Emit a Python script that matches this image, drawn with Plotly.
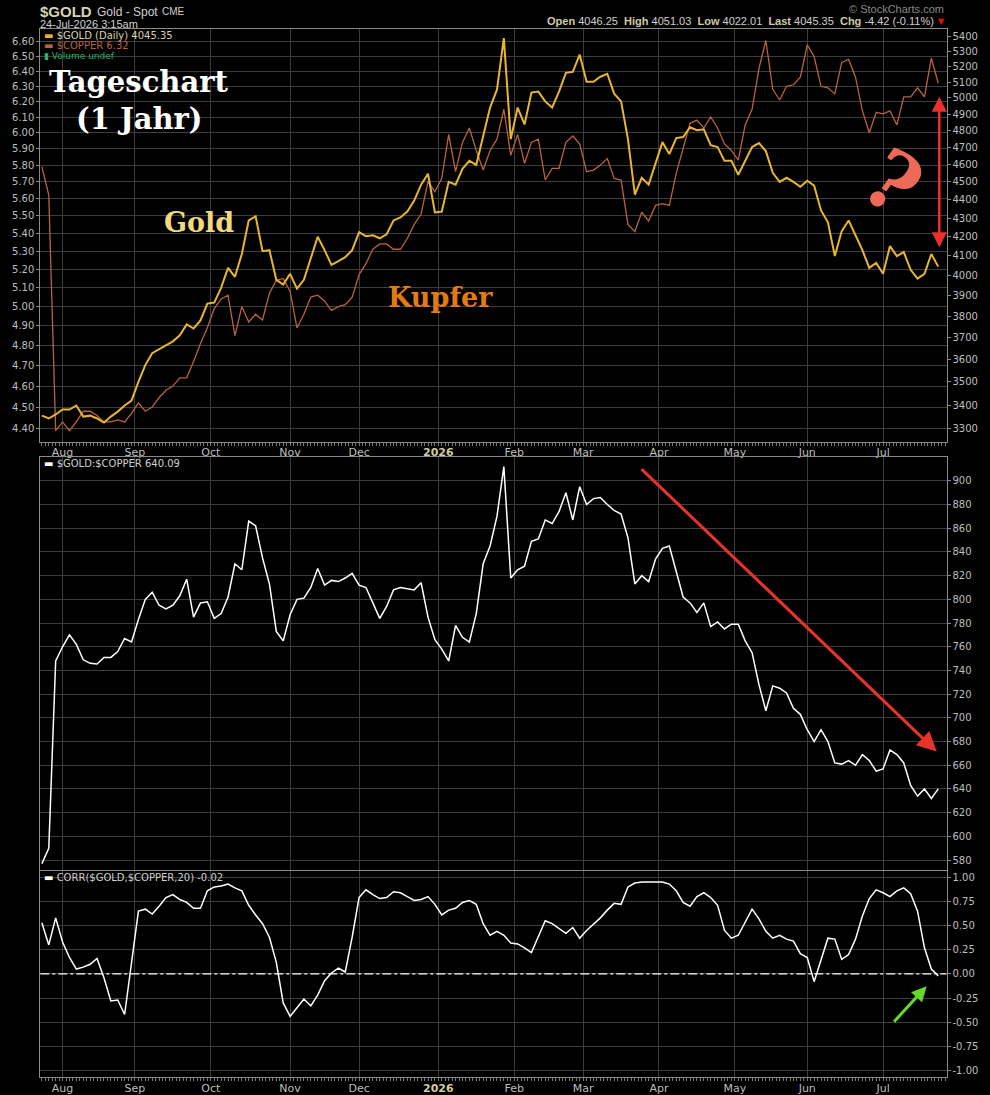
import math
import pandas as pd
import plotly.graph_objects as go

# every second trading day, 24 Jul 2025 .. 23 Jul 2026
dates = pd.bdate_range("2025-07-24", "2026-07-23")[::2]

gold = [
    3355, 3343, 3360, 3381, 3381, 3398, 3351, 3355, 3343, 3326,
    3351, 3372, 3398, 3419, 3500, 3575, 3629, 3647, 3665, 3683,
    3711, 3762, 3743, 3781, 3862, 3867, 3940, 4039, 3994, 4110,
    4287, 4309, 4125, 4130, 3979, 3955, 4009, 3935, 3979, 4089,
    4200, 4130, 4054, 4074, 4094, 4130, 4224, 4203, 4208, 4192,
    4213, 4287, 4303, 4335, 4395, 4484, 4546, 4330, 4335, 4500,
    4484, 4574, 4620, 4597, 4760, 4940, 5052, 5390, 4748, 4940,
    4836, 5034, 5040, 4978, 4940, 5040, 5160, 5167, 5279, 5103,
    5103, 5135, 5154, 5027, 4978, 4748, 4428, 4523, 4484, 4603,
    4730, 4660, 4754, 4760, 4819, 4801, 4807, 4712, 4701, 4620,
    4620, 4540, 4620, 4701, 4724, 4677, 4551, 4500, 4523, 4500,
    4472, 4506, 4478, 4341, 4277, 4100, 4230, 4287, 4208, 4130,
    4039, 4064, 4009, 4151, 4099, 4120, 4029, 3985, 4009, 4110,
    4045.35,
]

copper = [
    5.79, 5.62, 4.39, 4.43, 4.39, 4.43, 4.48, 4.48, 4.46, 4.43,
    4.43, 4.44, 4.43, 4.47, 4.52, 4.48, 4.50, 4.545, 4.58, 4.60,
    4.64, 4.64, 4.72, 4.81, 4.89, 4.99, 5.04, 5.06, 4.85, 5.00,
    4.92, 4.96, 4.93, 5.07, 5.14, 5.15, 5.08, 4.89, 4.96, 5.05,
    5.06, 5.03, 4.98, 5.00, 5.01, 5.05, 5.17, 5.23, 5.31, 5.34,
    5.34, 5.31, 5.31, 5.37, 5.45, 5.51, 5.70, 5.64, 5.72, 5.99,
    5.76, 5.94, 6.03, 5.89, 5.77, 5.89, 5.96, 6.15, 5.86, 5.99,
    5.81, 5.94, 5.96, 5.71, 5.78, 5.78, 5.94, 5.98, 5.93, 5.76,
    5.77, 5.80, 5.84, 5.72, 5.71, 5.45, 5.41, 5.52, 5.47, 5.56,
    5.57, 5.56, 5.75, 5.91, 6.06, 6.08, 6.03, 6.10, 6.03, 5.93,
    5.89, 5.83, 6.05, 6.15, 6.42, 6.61, 6.28, 6.21, 6.30, 6.31,
    6.36, 6.58, 6.50, 6.30, 6.29, 6.25, 6.46, 6.48, 6.36, 6.14,
    6.00, 6.13, 6.12, 6.14, 6.05, 6.23, 6.23, 6.29, 6.23, 6.49,
    6.32,
]

ratio = [
    577, 590, 748, 760, 770, 762, 749, 746, 745.5, 751,
    751, 756, 767, 764, 783, 800, 806, 795, 792, 795,
    803, 817, 785, 797, 798, 784, 788, 802, 830, 825,
    866, 862, 835, 813, 773, 765, 787, 800, 801, 810,
    826, 812, 816, 815, 818, 822, 812, 810, 797, 784,
    794, 808, 810, 809, 808, 814, 785, 766, 758, 748,
    778, 768, 764, 788, 830, 845, 870, 912, 818, 825,
    828, 849, 851, 867, 864, 874, 890, 867, 895, 880,
    885, 886, 880, 875, 872, 852, 813, 820, 815, 834,
    843, 845, 824, 802, 797, 789, 797, 777, 781, 775,
    779, 779, 765, 755, 728, 706, 727, 725, 721, 708,
    703, 690, 680, 690, 680, 662, 661, 664, 660, 669,
    664, 655, 657, 673, 669, 662, 643, 634, 640, 632,
    640.09,
]

corr = [
    0.53, 0.30, 0.58, 0.33, 0.17, 0.05, 0.07, 0.10, 0.16, -0.04,
    -0.28, -0.27, -0.42, 0.10, 0.65, 0.67, 0.62, 0.70, 0.79, 0.82,
    0.77, 0.74, 0.68, 0.68, 0.86, 0.90, 0.91, 0.93, 0.89, 0.86,
    0.71, 0.61, 0.52, 0.38, 0.12, -0.30, -0.44, -0.35, -0.26, -0.33,
    -0.22, -0.07, 0.01, 0.06, 0.02, 0.38, 0.79, 0.87, 0.82, 0.78,
    0.79, 0.85, 0.84, 0.80, 0.76, 0.77, 0.80, 0.72, 0.61, 0.66,
    0.68, 0.74, 0.76, 0.72, 0.52, 0.40, 0.44, 0.40, 0.32, 0.31,
    0.27, 0.22, 0.38, 0.55, 0.52, 0.47, 0.42, 0.48, 0.37, 0.45,
    0.51, 0.58, 0.66, 0.73, 0.72, 0.90, 0.94, 0.95, 0.95, 0.95,
    0.95, 0.93, 0.86, 0.74, 0.70, 0.80, 0.84, 0.79, 0.71, 0.45,
    0.37, 0.40, 0.53, 0.67, 0.57, 0.44, 0.37, 0.40, 0.36, 0.34,
    0.21, 0.17, -0.08, 0.15, 0.37, 0.36, 0.15, 0.20, 0.36, 0.60,
    0.78, 0.87, 0.84, 0.80, 0.86, 0.89, 0.83, 0.65, 0.27, 0.05,
    -0.02,
]

month_ticks = ["2025-08-01", "2025-09-01", "2025-10-01", "2025-11-03", "2025-12-01", "2026-01-01",
               "2026-02-02", "2026-03-02", "2026-04-01", "2026-05-01", "2026-06-01", "2026-07-01"]
month_labels = ["Aug", "Sep", "Oct", "Nov", "Dec", "2026", "Feb", "Mar", "Apr", "May", "Jun", "Jul"]

copper_ticks = [4.40, 4.50, 4.60, 4.70, 4.80, 4.90, 5.00, 5.10, 5.20, 5.30, 5.40, 5.50,
                5.60, 5.70, 5.80, 5.90, 6.00, 6.10, 6.20, 6.30, 6.40, 6.50, 6.60]
gold_ticks = [3300, 3400, 3500, 3600, 3700, 3800, 3900, 4000, 4100, 4200, 4300,
              4400, 4500, 4600, 4700, 4800, 4900, 5000, 5100, 5200, 5300, 5400]
ratio_ticks = [580, 600, 620, 640, 660, 680, 700, 720, 740, 760, 780, 800, 820, 840, 860, 880, 900]
corr_ticks = [-1.00, -0.75, -0.50, -0.25, 0.00, 0.25, 0.50, 0.75, 1.00]

W, H = 990, 1095
def px(x): return x / W
def py(y): return 1 - y / H

BG = "#000000"
GRID = "#3d3d3d"
FRAME = "#8a8a8a"
LBL = "#bdbdbd"
GOLD_C = "#e8b530"
COPPER_C = "#b8633c"

fig = go.Figure()
fig.add_trace(go.Scatter(x=dates, y=copper, mode="lines", line=dict(color=COPPER_C, width=1.3),
                         xaxis="x", yaxis="y"))
fig.add_trace(go.Scatter(x=dates, y=gold, mode="lines", line=dict(color=GOLD_C, width=2),
                         xaxis="x", yaxis="y2"))
fig.add_trace(go.Scatter(x=dates, y=ratio, mode="lines", line=dict(color="#ffffff", width=1.5),
                         xaxis="x2", yaxis="y3"))
fig.add_trace(go.Scatter(x=dates, y=corr, mode="lines", line=dict(color="#ffffff", width=1.5),
                         xaxis="x3", yaxis="y4"))

ticktext = [f"<b><span style='color:#d2cca0'>{m}</span></b>" if m.isdigit() else m for m in month_labels]
xdom = [px(40.3), px(946.5)]
xcommon = dict(type="date", domain=xdom, range=["2025-07-23 13:00", "2026-07-27 09:30"],
               rangebreaks=[dict(bounds=["sat", "mon"])],
               tickmode="array", tickvals=month_ticks, ticktext=ticktext,
               showgrid=True, gridcolor=GRID, gridwidth=1, zeroline=False,
               showline=True, mirror=True, linecolor=FRAME, linewidth=1, ticks="",
               tickfont=dict(family="DejaVu Sans", size=11, color=LBL))
minor = dict(tickmode="linear", tick0="2025-07-24", dtick=86400000, ticks="outside",
             ticklen=3, tickcolor="#777777", showgrid=False)

ycommon = dict(showline=True, mirror=True, linecolor=FRAME, linewidth=1, zeroline=False,
               ticks="outside", ticklen=3, tickcolor=FRAME,
               tickfont=dict(family="DejaVu Sans", size=10, color=LBL), tickmode="array")

fig.update_layout(
    width=W, height=H, margin=dict(l=0, r=0, t=0, b=0),
    paper_bgcolor=BG, plot_bgcolor=BG, showlegend=False,
    xaxis=dict(xcommon, anchor="y", minor=minor),
    xaxis2=dict(xcommon, anchor="y3", matches="x", showticklabels=False),
    xaxis3=dict(xcommon, anchor="y4", matches="x", minor=minor),
    yaxis=dict(ycommon, domain=[py(443), py(29.5)], type="log", side="left",
               range=[math.log10(4.337), math.log10(6.687)],
               tickvals=copper_ticks, ticktext=[f"{v:.2f}" for v in copper_ticks],
               showgrid=True, gridcolor=GRID),
    yaxis2=dict(ycommon, overlaying="y", anchor="x", type="log", side="right",
                range=[math.log10(3245), math.log10(5449)],
                tickvals=gold_ticks, ticktext=[str(v) for v in gold_ticks], showgrid=False),
    yaxis3=dict(ycommon, domain=[py(872), py(457.5)], anchor="x2", side="right",
                range=[571.3, 920.4], tickvals=ratio_ticks, showgrid=True, gridcolor=GRID),
    yaxis4=dict(ycommon, domain=[py(1079.3), py(872.3)], anchor="x3", side="right",
                range=[-1.07, 1.068], tickvals=corr_ticks,
                ticktext=[f"{v:.2f}" for v in corr_ticks], showgrid=True, gridcolor=GRID),
)

# zero line of the correlation panel
fig.add_shape(type="line", xref="x3 domain", x0=0, x1=1, yref="y4", y0=0, y1=0,
              line=dict(color="#ffffff", width=1.2, dash="dashdot"))

def note(text, x, y, size=11, color=LBL, family="DejaVu Sans", xanchor="left", **kw):
    fig.add_annotation(text=text, x=px(x), y=py(y), xref="paper", yref="paper",
                       xanchor=xanchor, yanchor="middle", showarrow=False,
                       font=dict(family=family, size=size, color=color), **kw)

# header
note("<b>$GOLD</b>", 38, 12, size=15, color="#d6d2b4", family="Liberation Sans")
note("Gold - Spot", 95, 12, size=12, color="#d0d0d0", family="Liberation Sans")
note("CME", 160, 12, size=10, color="#d0d0d0", family="Liberation Sans")
note("24-Jul-2026 3:15am", 38, 24, size=11, color="#cfcfcf", family="Liberation Sans")
note("© StockCharts.com", 946, 9, size=11, color="#8a8a8a", family="Liberation Sans", xanchor="right")
hdr = ("<b><span style='color:#cfcaa6'>Open</span></b> 4046.25  "
       "<b><span style='color:#cfcaa6'>High</span></b> 4051.03  "
       "<b><span style='color:#cfcaa6'>Low</span></b> 4022.01  "
       "<b><span style='color:#cfcaa6'>Last</span></b> 4045.35  "
       "<b><span style='color:#cfcaa6'>Chg</span></b> -4.42 (-0.11%)")
note(hdr, 936, 21, size=11, color="#cfcfcf", family="Liberation Sans", xanchor="right")
note("▼", 936, 22, size=8, color="#e01010")

# panel legends
note(f"<span style='color:{GOLD_C}'>▬</span> $GOLD (Daily) 4045.35", 42, 36, size=10, color="#d8d2b0")
note(f"<span style='color:{COPPER_C}'>▬</span> $COPPER 6.32", 42, 46, size=10, color=COPPER_C)
note("▮ Volume undef", 42, 56, size=9, color="#29b36a")
note("<span style='color:#ffffff'>▬</span> $GOLD:$COPPER 640.09", 42, 464, size=10, color="#d0d0d0")
note("<span style='color:#ffffff'>▬</span> CORR($GOLD,$COPPER,20) -0.02", 42, 879, size=10, color="#d0d0d0")

# big labels
note("<b>Tageschart</b>", 138, 82, size=29, color="#ffffff", family="DejaVu Serif", xanchor="center")
note("<b>(1 Jahr)</b>", 139, 119, size=29, color="#ffffff", family="DejaVu Serif", xanchor="center")
note("<b>Gold</b>", 199, 223, size=27, color="#f2d97a", family="DejaVu Serif", xanchor="center")
note("<b>Kupfer</b>", 440, 298, size=27, color="#e27b12", family="DejaVu Serif", xanchor="center")
note("<b>?</b>", 893, 182, size=82, color="#ec6a57", family="DejaVu Serif", xanchor="center", textangle=35)

def arrow(hx, hy, tx, ty, color, width, size=1.0, side="end"):
    fig.add_annotation(text="", x=px(hx), y=py(hy), xref="paper", yref="paper",
                       ax=tx - hx, ay=ty - hy, axref="pixel", ayref="pixel",
                       showarrow=True, arrowhead=2, arrowsize=size, arrowwidth=width,
                       arrowcolor=color, arrowside=side, standoff=0, startstandoff=0)

arrow(939.3, 97, 939.3, 249, "#e8322a", 2.5, 1.2, side="end+start")
arrow(936.7, 753, 640, 469, "#e8332a", 3, 1.3)
arrow(926.7, 988, 892.7, 1025, "#66d92a", 3, 1.0)

fig.write_html("out.html", config={"displayModeBar": False},
               post_script="document.body.style.margin='0px';")
